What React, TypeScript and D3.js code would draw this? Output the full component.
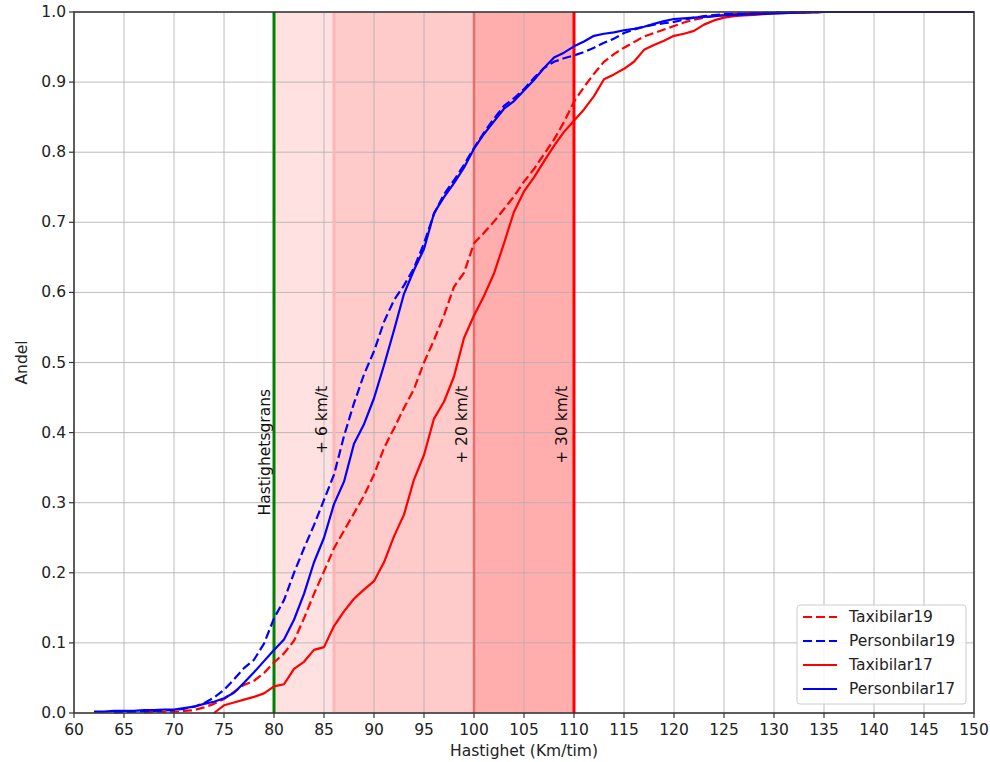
import React from 'react';
import * as d3 from 'd3';

// speed (km/h) and cumulative share
const taxi19: [number, number][] = [
  [67, 0.001], [68, 0.002], [70, 0.002], [71, 0.003], [72, 0.004], [73, 0.008], [74, 0.013],
  [75, 0.02], [76, 0.03], [77, 0.04], [78, 0.046], [79, 0.057], [80, 0.072], [81, 0.085],
  [82, 0.103], [83, 0.135], [84, 0.17], [85, 0.202], [86, 0.235], [87, 0.26], [88, 0.285],
  [89, 0.31], [90, 0.34], [91, 0.378], [92, 0.406], [93, 0.435], [94, 0.462], [95, 0.5],
  [96, 0.532], [97, 0.567], [98, 0.608], [99, 0.628], [100, 0.67], [101, 0.685], [102, 0.701],
  [103, 0.719], [104, 0.737], [105, 0.758], [106, 0.776], [107, 0.797], [108, 0.818],
  [109, 0.843], [110, 0.872], [111, 0.893], [112, 0.912], [113, 0.929], [114, 0.94],
  [115, 0.949], [116, 0.957], [117, 0.965], [118, 0.97], [119, 0.975], [120, 0.98],
  [121, 0.985], [122, 0.989], [123, 0.992], [124, 0.994], [125, 0.996], [127, 0.998],
  [130, 0.999], [135, 1.0], [150, 1.0],
];

const person19: [number, number][] = [
  [64, 0.001], [66, 0.002], [68, 0.003], [70, 0.004], [71, 0.006], [72, 0.009], [73, 0.014],
  [74, 0.022], [75, 0.033], [76, 0.048], [77, 0.064], [78, 0.076], [79, 0.099], [80, 0.135],
  [81, 0.161], [82, 0.2], [83, 0.235], [84, 0.268], [85, 0.304], [86, 0.34], [87, 0.395],
  [88, 0.442], [89, 0.483], [90, 0.516], [91, 0.558], [92, 0.589], [93, 0.61], [94, 0.635],
  [95, 0.67], [96, 0.712], [97, 0.74], [98, 0.76], [99, 0.782], [100, 0.806], [101, 0.828],
  [102, 0.848], [103, 0.866], [104, 0.877], [105, 0.89], [106, 0.906], [107, 0.92],
  [108, 0.929], [109, 0.934], [110, 0.938], [111, 0.943], [112, 0.949], [113, 0.956],
  [114, 0.962], [115, 0.97], [116, 0.975], [117, 0.979], [118, 0.982], [119, 0.984],
  [120, 0.986], [121, 0.989], [122, 0.992], [123, 0.994], [125, 0.997], [130, 0.999],
  [135, 1.0], [150, 1.0],
];

const taxi17: [number, number][] = [
  [74, 0], [75, 0.011], [76, 0.015], [77, 0.019], [78, 0.023], [79, 0.028], [80, 0.038],
  [81, 0.041], [82, 0.063], [83, 0.073], [84, 0.09], [85, 0.094], [86, 0.124], [87, 0.145],
  [88, 0.163], [89, 0.176], [90, 0.188], [91, 0.215], [92, 0.252], [93, 0.283], [94, 0.333],
  [95, 0.368], [96, 0.42], [97, 0.444], [98, 0.48], [99, 0.535], [100, 0.567], [101, 0.595],
  [102, 0.627], [103, 0.67], [104, 0.715], [105, 0.744], [106, 0.764], [107, 0.787],
  [108, 0.809], [109, 0.829], [110, 0.845], [111, 0.861], [112, 0.88], [113, 0.904],
  [114, 0.911], [115, 0.919], [116, 0.929], [117, 0.946], [118, 0.953], [119, 0.959],
  [120, 0.966], [121, 0.969], [122, 0.973], [123, 0.982], [124, 0.988], [125, 0.992],
  [126, 0.994], [127, 0.995], [128, 0.996], [129, 0.997], [130, 0.998], [132, 0.999],
  [135, 1.0], [150, 1.0],
];

const person17: [number, number][] = [
  [62, 0.002], [63, 0.002], [64, 0.003], [65, 0.003], [66, 0.003], [67, 0.004], [68, 0.004],
  [69, 0.005], [70, 0.005], [71, 0.007], [72, 0.009], [73, 0.013], [74, 0.016], [75, 0.021],
  [76, 0.029], [77, 0.043], [78, 0.058], [79, 0.074], [80, 0.09], [81, 0.105], [82, 0.133],
  [83, 0.17], [84, 0.215], [85, 0.25], [86, 0.298], [87, 0.33], [88, 0.384], [89, 0.412],
  [90, 0.449], [91, 0.496], [92, 0.546], [93, 0.598], [94, 0.632], [95, 0.662], [96, 0.713],
  [97, 0.736], [98, 0.756], [99, 0.778], [100, 0.805], [101, 0.826], [102, 0.844],
  [103, 0.862], [104, 0.873], [105, 0.888], [106, 0.903], [107, 0.92], [108, 0.935],
  [109, 0.942], [110, 0.951], [111, 0.958], [112, 0.966], [113, 0.969], [114, 0.971],
  [115, 0.974], [116, 0.976], [117, 0.979], [118, 0.983], [119, 0.987], [120, 0.99],
  [121, 0.991], [122, 0.992], [123, 0.993], [125, 0.995], [128, 0.997], [130, 0.998],
  [135, 1.0], [150, 1.0],
];

const xTicks = d3.range(60, 151, 5);
const yTicks = d3.range(0, 1.01, 0.1);

// shaded speed bands above the limit
const bands = [
  { from: 80, to: 86, fill: '#ffe1e1' },
  { from: 86, to: 100, fill: '#ffcaca' },
  { from: 100, to: 110, fill: '#ffadad' },
];

const markers = [
  { x: 79.1, y: 0.372, text: 'Hastighetsgrans' },
  { x: 84.8, y: 0.418, text: '+ 6 km/t' },
  { x: 98.8, y: 0.411, text: '+ 20 km/t' },
  { x: 108.8, y: 0.411, text: '+ 30 km/t' },
];

const series = [
  { name: 'Taxibilar19', data: taxi19, color: 'red', dash: '9 4' },
  { name: 'Personbilar19', data: person19, color: 'blue', dash: '9 4' },
  { name: 'Taxibilar17', data: taxi17, color: 'red', dash: null },
  { name: 'Personbilar17', data: person17, color: 'blue', dash: null },
];

const W = 990;
const H = 762;
const FONT = 'DejaVu Sans, sans-serif';

export default function App() {
  const x = d3.scaleLinear().domain([60, 150]).range([74, 974]);
  const y = d3.scaleLinear().domain([0, 1]).range([713, 12]);
  const line = d3.line<[number, number]>().x(d => x(d[0])).y(d => y(d[1]));

  const [x0, x1] = x.range();
  const [yb, yt] = y.range();

  return (
    <svg width={W} height={H} style={{ position: 'absolute', left: 0, top: 0, background: '#fff' }} fontFamily={FONT}>
      {bands.map(b => (
        <rect key={b.from} x={x(b.from)} y={yt} width={x(b.to) - x(b.from)} height={yb - yt} fill={b.fill} />
      ))}

      {/* grid */}
      {xTicks.map(t => (
        <line key={'gx' + t} x1={x(t)} x2={x(t)} y1={yt} y2={yb} stroke="#b0b0b0" strokeOpacity={0.85} strokeWidth={1} />
      ))}
      {yTicks.map(t => (
        <line key={'gy' + t} x1={x0} x2={x1} y1={y(t)} y2={y(t)} stroke="#b0b0b0" strokeOpacity={0.85} strokeWidth={1} />
      ))}

      {/* band edges */}
      <line x1={x(86)} x2={x(86)} y1={yt} y2={yb} stroke="#ffb5b5" strokeWidth={3} />
      <line x1={x(100)} x2={x(100)} y1={yt} y2={yb} stroke="#e27070" strokeWidth={2.5} />
      <line x1={x(80)} x2={x(80)} y1={yt} y2={yb} stroke="green" strokeWidth={3} />
      <line x1={x(110)} x2={x(110)} y1={yt} y2={yb} stroke="red" strokeWidth={3} />

      {markers.map(m => (
        <text key={m.text} transform={`translate(${x(m.x)},${y(m.y)}) rotate(-90)`} textAnchor="middle"
          dominantBaseline="central" fontSize={15.5} fill="#111">{m.text}</text>
      ))}

      {series.map(s => (
        <path key={s.name} d={line(s.data) || ''} fill="none" stroke={s.color} strokeWidth={2.2}
          strokeDasharray={s.dash || undefined} strokeLinejoin="round" />
      ))}

      {/* frame */}
      <rect x={x0} y={yt} width={x1 - x0} height={yb - yt} fill="none" stroke="#333" strokeWidth={1.5} />

      {xTicks.map(t => (
        <g key={'tx' + t}>
          <line x1={x(t)} x2={x(t)} y1={yb} y2={yb + 5} stroke="#333" strokeWidth={1.2} />
          <text x={x(t)} y={yb + 17} textAnchor="middle" dominantBaseline="central" fontSize={15.5} fill="#222">{t}</text>
        </g>
      ))}
      {yTicks.map(t => (
        <g key={'ty' + t}>
          <line x1={x0 - 5} x2={x0} y1={y(t)} y2={y(t)} stroke="#333" strokeWidth={1.2} />
          <text x={x0 - 8} y={y(t)} textAnchor="end" dominantBaseline="central" fontSize={15.5} fill="#222">{t.toFixed(1)}</text>
        </g>
      ))}

      <text x={(x0 + x1) / 2} y={751} textAnchor="middle" dominantBaseline="central" fontSize={15.5} fill="#222">Hastighet (Km/tim)</text>
      <text transform={`translate(22,${(yt + yb) / 2}) rotate(-90)`} textAnchor="middle" dominantBaseline="central" fontSize={15.5} fill="#222">Andel</text>

      {/* legend */}
      <g>
        <rect x={797} y={605} width={169} height={99} rx={3} fill="#fff" fillOpacity={0.85} stroke="#cccccc" />
        {series.map((s, i) => (
          <g key={'lg' + s.name} transform={`translate(803,${617 + i * 24})`}>
            <line x1={0} x2={34} y1={0} y2={0} stroke={s.color} strokeWidth={2.2} strokeDasharray={s.dash || undefined} />
            <text x={46} y={0} dominantBaseline="central" fontSize={15.5} fill="#222">{s.name}</text>
          </g>
        ))}
      </g>
    </svg>
  );
}
